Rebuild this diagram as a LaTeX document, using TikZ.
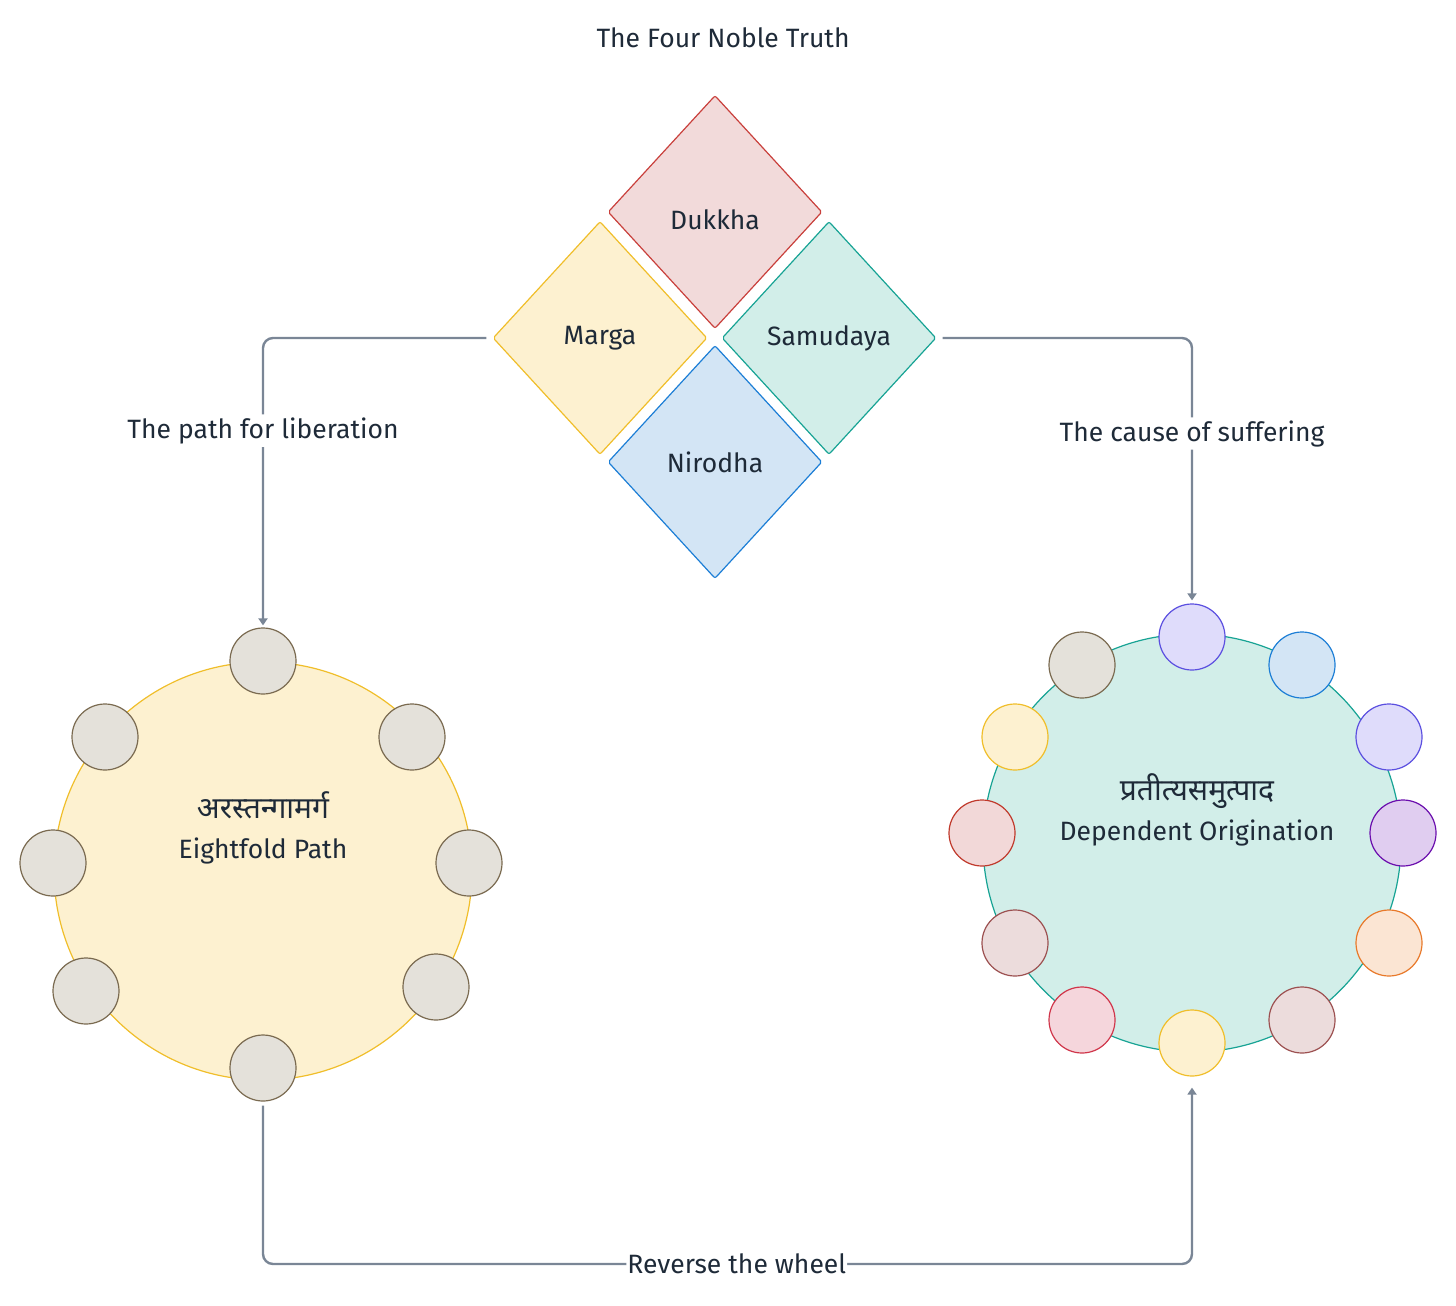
\documentclass[tikz,border=0pt]{standalone}
\usepackage{fontspec}
\setmainfont{Fira Sans}
\newfontfamily\deva[Script=Devanagari]{Noto Sans}
\usetikzlibrary{arrows.meta,shapes.geometric}
\definecolor{ink}{HTML}{1E2A38}
\definecolor{wire}{HTML}{7A8696}
\definecolor{redfill}{HTML}{F2DADA}\definecolor{redline}{HTML}{C9403C}
\definecolor{yelfill}{HTML}{FDF1D0}\definecolor{yelline}{HTML}{F0BE2A}
\definecolor{tealfill}{HTML}{D2EEE9}\definecolor{tealline}{HTML}{17A394}
\definecolor{bluefill}{HTML}{D3E5F5}\definecolor{blueline}{HTML}{1C7ED6}
\definecolor{grayfill}{HTML}{E4E1DA}\definecolor{grayline}{HTML}{7A6A50}
\definecolor{lavfill}{HTML}{DFDCFB}\definecolor{lavline}{HTML}{5B4FE0}
\definecolor{purfill}{HTML}{E0CDF0}\definecolor{purline}{HTML}{6A0DAD}
\definecolor{orfill}{HTML}{FBE5D3}\definecolor{orline}{HTML}{E8792A}
\definecolor{rosefill}{HTML}{ECDCDC}\definecolor{roseline}{HTML}{9C5050}
\definecolor{pinkfill}{HTML}{F5D6DC}\definecolor{pinkline}{HTML}{D0354A}
\definecolor{brickfill}{HTML}{F2D8D8}\definecolor{brickline}{HTML}{C0392B}
\tikzset{
  truth/.style={diamond, draw, line width=1.2pt, rounded corners=2pt, inner sep=0pt,
                minimum width=214pt, minimum height=233pt, text=ink},
  wheel/.style={circle, draw, line width=1.2pt, inner sep=0pt, minimum size=418pt},
  spoke/.style={circle, draw, line width=1.2pt, inner sep=0pt, minimum size=66pt},
  plain/.style={spoke, fill=grayfill, draw=grayline},
  wtext/.style={align=center, text=ink, font=\fontsize{26.5}{40}\selectfont},
  conn/.style={-{Triangle[length=7pt,width=9pt]}, draw=wire, line width=2.4pt,
               rounded corners=10pt},
  lbl/.style={fill=white, text=ink, inner sep=3pt},
}
\begin{document}
\begin{tikzpicture}[x=1pt, y=-1pt, font=\fontsize{26.5}{30}\selectfont]
\useasboundingbox (0,0) rectangle (1456,1306);
\node[text=ink] (title) at (723,38) {The Four Noble Truth};
% the four truths
\node[truth, fill=redfill, draw=redline] (dukkha) at (715,212) {\raisebox{-17pt}[0pt][0pt]{Dukkha}};
\node[truth, fill=yelfill, draw=yelline] (marga) at (600,338) {Marga};
\node[truth, fill=tealfill, draw=tealline] (samudaya) at (829,338) {Samudaya};
\node[truth, fill=bluefill, draw=blueline] (nirodha) at (715,462) {Nirodha};
% eightfold path
\node[wheel, fill=yelfill, draw=yelline] (path) at (263,871) {};
\node[wtext] (pathtxt) at (263,828) {{\deva\fontsize{30}{40}\selectfont अरस्तन्गामर्ग}\\Eightfold Path};
\node[plain] (l1) at (263,661) {};
\node[plain] (l2) at (412,737) {};
\node[plain] (l3) at (469,863) {};
\node[plain] (l4) at (436,987) {};
\node[plain] (l5) at (263,1068) {};
\node[plain] (l6) at (86,991) {};
\node[plain] (l7) at (53,863) {};
\node[plain] (l8) at (105,737) {};
% dependent origination
\node[wheel, fill=tealfill, draw=tealline] (origin) at (1192,843) {};
\node[wtext] (origintxt) at (1197,810) {{\deva\fontsize{30}{40}\selectfont प्रतीत्यसमुत्पाद}\\Dependent Origination};
\node[spoke, fill=lavfill, draw=lavline] (r1) at (1192,637) {};
\node[spoke, fill=bluefill, draw=blueline] (r2) at (1302,665) {};
\node[spoke, fill=lavfill, draw=lavline] (r3) at (1389,737) {};
\node[spoke, fill=purfill, draw=purline] (r4) at (1403,833) {};
\node[spoke, fill=orfill, draw=orline] (r5) at (1389,943) {};
\node[spoke, fill=rosefill, draw=roseline] (r6) at (1302,1020) {};
\node[spoke, fill=yelfill, draw=yelline] (r7) at (1192,1043) {};
\node[spoke, fill=pinkfill, draw=pinkline] (r8) at (1082,1020) {};
\node[spoke, fill=rosefill, draw=roseline] (r9) at (1015,943) {};
\node[spoke, fill=brickfill, draw=brickline] (r10) at (982,833) {};
\node[spoke, fill=yelfill, draw=yelline] (r11) at (1015,737) {};
\node[spoke, fill=grayfill, draw=grayline] (r12) at (1082,665) {};
% connectors
\coordinate (bl) at (263,1264);
\coordinate (br) at (1192,1264);
\draw[conn, shorten <=6pt, shorten >=2pt] (marga.west) -| node[lbl, pos=0.66]{The path for liberation} (l1.north);
\draw[conn, shorten <=6pt, shorten >=3pt] (samudaya.east) -| node[lbl, pos=0.68]{The cause of suffering} (r1.north);
\draw[conn, shorten <=4pt, shorten >=11pt] (l5.south) -- (bl) -- node[lbl, pos=0.51, inner sep=1pt]{Reverse the wheel} (br) -- (r7.south);
\end{tikzpicture}
\end{document}
